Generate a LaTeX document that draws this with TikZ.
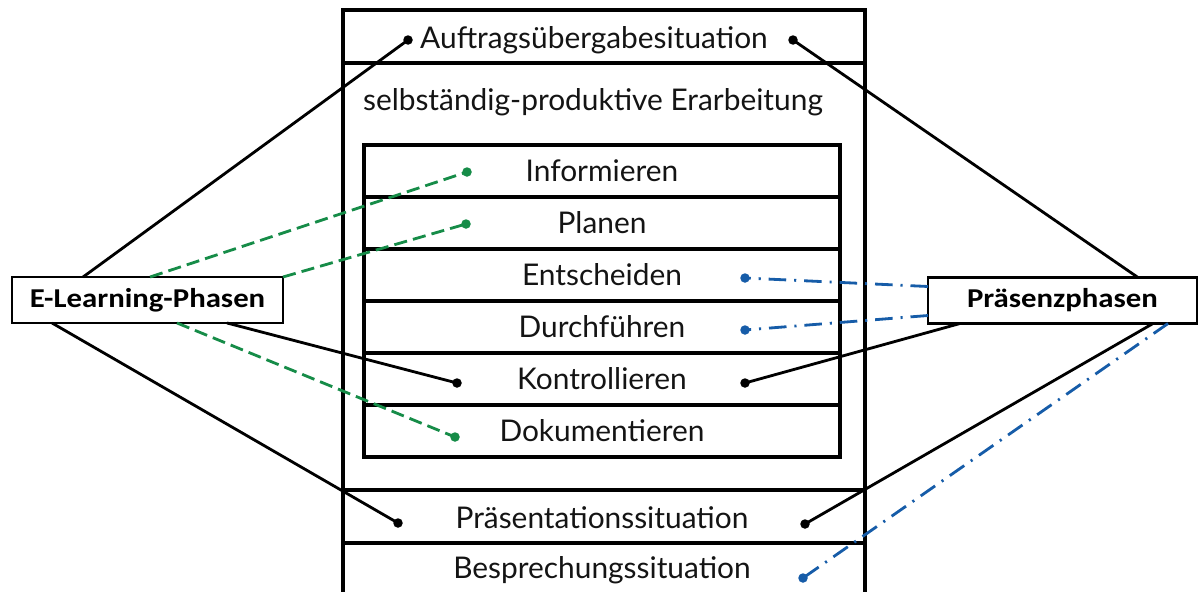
\documentclass[tikz,border=0pt]{standalone}
\usepackage{fontspec}
\setmainfont{Lato}
\newfontfamily\labelfont[FakeStretch=1.13]{Carlito}
\usepackage{tikz}
\usetikzlibrary{positioning,calc}
\definecolor{elgreen}{RGB}{22,140,72}
\definecolor{prblue}{RGB}{22,92,168}
\definecolor{inkgray}{RGB}{20,20,20}

\begin{document}
\begin{tikzpicture}[
    x=0.02cm, y=-0.02cm,
    frame/.style={rectangle, draw, line width=2pt, minimum width=10.44cm, outer sep=0pt, inner sep=0pt},
    caption/.style={font=\fontsize{17}{20}\selectfont, text=inkgray, text height=12.2pt, text depth=0pt, inner sep=0pt},
    stage/.style={rectangle, draw, line width=1.8pt, minimum width=9.52cm, minimum height=1.04cm, outer sep=0pt, inner sep=0pt, font=\fontsize{17}{20}\selectfont, text height=12.2pt, text depth=0pt, text=inkgray},
    phase/.style={rectangle, draw, line width=1.6pt, fill=white, minimum height=0.92cm, outer sep=0pt, font=\labelfont\bfseries\fontsize{15.5}{18}\selectfont},
    dot/.style={circle, fill, inner sep=0pt, minimum size=0.19cm},
    link/.style={line width=1.6pt},
    elink/.style={line width=1.6pt, elgreen, dash pattern=on 7.5pt off 3.5pt},
    plink/.style={line width=1.6pt, prblue, dash pattern=on 10pt off 4.5pt on 1.2pt off 4.5pt},
]
\path[use as bounding box] (0,0) rectangle (1198,592);
\clip (0,0) rectangle (1198,592);

% Outer frame
\node[frame, minimum height=1.06cm] (auftrag) at (604,36.5) {};
\node[frame, minimum height=8.54cm, below=0pt of auftrag] (erarb) {};
\node[frame, minimum height=1.06cm, below=0pt of erarb] (praes) {};
\node[frame, minimum height=1.14cm, below=0pt of praes] (bespr) {};
\node[caption] (auftragtext) at (594,38) {Auftrags\"ubergabesituation};
\node[caption] (erarbtext) at (593,100) {selbst\"andig-produktive Erarbeitung};
\node[caption] (praestext) at (602,518) {Pr\"asentationssituation};
\node[caption] (besprtext) at (602,568) {Besprechungssituation};

% Steps
\node[stage] (inf) at (602,171) {Informieren};
\node[stage, below=0pt of inf] (pla) {Planen};
\node[stage, below=0pt of pla] (ent) {Entscheiden};
\node[stage, below=0pt of ent] (dur) {Durchf\"uhren};
\node[stage, below=0pt of dur] (kon) {Kontrollieren};
\node[stage, below=0pt of kon] (dok) {Dokumentieren};

% Phases
\node[phase, minimum width=5.42cm] (elp) at (147.5,300) {E-Learning-Phasen};
\node[phase, minimum width=5.38cm] (prp) at (1062.5,300.5) {Pr\"asenzphasen};

% Dots
\node[dot] (d-auf-l) at (408,40) {};
\node[dot] (d-auf-r) at (793,40) {};
\node[dot, elgreen] (d-inf) at (467,172) {};
\node[dot, elgreen] (d-pla) at (466,224) {};
\node[dot, prblue] (d-ent) at (745,278) {};
\node[dot, prblue] (d-dur) at (745,330) {};
\node[dot] (d-kon-l) at (457,383) {};
\node[dot] (d-kon-r) at (745,383) {};
\node[dot, elgreen] (d-dok) at (455,437) {};
\node[dot] (d-pra-l) at (398,523) {};
\node[dot] (d-pra-r) at (805,524) {};
\node[dot, prblue] (d-bes) at (803,578) {};

% E-Learning links
\draw[link] ($(elp.north west)+(71,0)$) -- (d-auf-l.center);
\draw[elink] ($(elp.north west)+(138,0)$) -- (d-inf.center);
\draw[elink] (elp.north east) -- (d-pla.center);
\draw[link] ($(elp.south west)+(40,0)$) -- (d-pra-l.center);
\draw[elink] ($(elp.south west)+(165,0)$) -- (d-dok.center);
\draw[link] ($(elp.south west)+(215,0)$) -- (d-kon-l.center);

% Praesenz links
\draw[link] ($(prp.north west)+(210,0)$) -- (d-auf-r.center);
\draw[plink] ($(prp.west)+(0,-14)$) -- (d-ent.center);
\draw[plink] ($(prp.west)+(0,15)$) -- (d-dur.center);
\draw[link] ($(prp.south west)+(32,0)$) -- (d-kon-r.center);
\draw[link] ($(prp.south west)+(225,0)$) -- (d-pra-r.center);
\draw[plink] ($(prp.south west)+(240,0)$) -- (d-bes.center);
\end{tikzpicture}
\end{document}
